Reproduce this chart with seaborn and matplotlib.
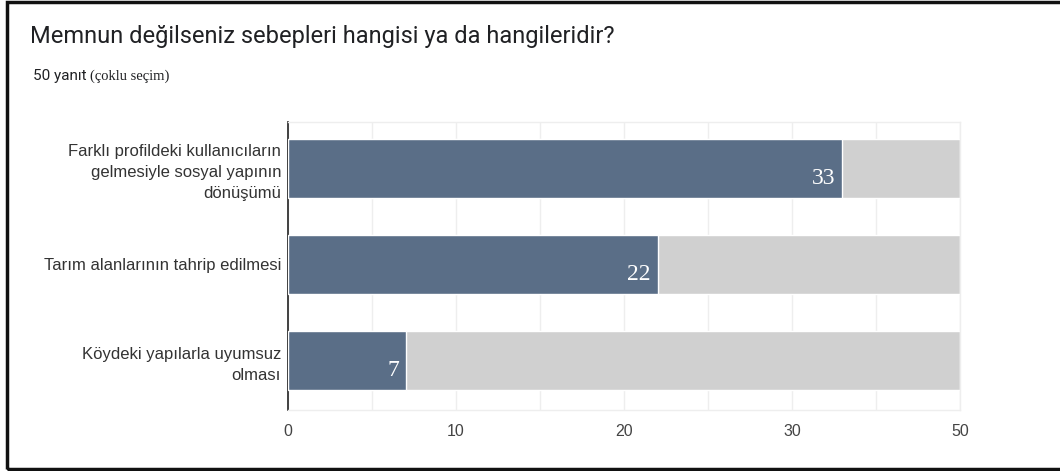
import numpy as np
import pandas as pd
import seaborn as sns
import matplotlib
matplotlib.use('Agg')
import matplotlib.pyplot as plt
from matplotlib.patches import Rectangle

# survey data
categories = [
    'Farklı profildeki kullanıcıların\ngelmesiyle sosyal yapının\ndönüşümü',
    'Tarım alanlarının tahrip edilmesi',
    'Köydeki yapılarla uyumsuz\nolması',
]
counts = [33, 22, 7]
# grey track behind each bar runs to the end of the axis
track = [40, 40, 40]
tick_values = [0, 10, 20, 30, 40]
tick_labels = ['0', '10', '20', '30', '50']

title = 'Memnun değilseniz sebepleri hangisi ya da hangileridir?'

sns.set_theme(style='white')
plt.rcParams['font.family'] = ['Liberation Sans', 'DejaVu Sans']

df = pd.DataFrame({'reason': categories, 'count': counts, 'track': track})

fig = plt.figure(figsize=(10.6, 4.71), dpi=100)
ax = fig.add_axes([288 / 1060, 1 - 410 / 471, 672 / 1060, 288 / 471])

sns.barplot(data=df, x='track', y='reason', orient='h', color='#d0d0d0',
            saturation=1, width=0.615, ax=ax, zorder=2)
sns.barplot(data=df, x='count', y='reason', orient='h', color='#5a6e87',
            saturation=1, width=0.615, ax=ax, zorder=3)

for i, v in enumerate(counts):
    ax.text(v - 0.4, i + 0.1, str(v), ha='right', va='center', color='white',
            fontsize=17, family='Liberation Serif', zorder=4)

ax.set_xlim(0, 40)
ax.set_ylim(2.516, -0.484)
ax.set_xticks(tick_values)
ax.set_xticklabels(tick_labels)
ax.set_xticks(np.arange(5, 40, 10), minor=True)
ax.grid(axis='x', which='both', color='#eeeeee', linewidth=1, zorder=0)
ax.set_axisbelow(True)
ax.set_xlabel('')
ax.set_ylabel('')
ax.tick_params(axis='x', length=0, pad=10, labelsize=11.5, labelcolor='#444444')
ax.tick_params(axis='y', length=0, pad=5, labelsize=12, labelcolor='#333333')
for lbl in ax.get_yticklabels():
    lbl.set_multialignment('right')
    lbl.set_linespacing(1.5)

for side in ['top', 'bottom', 'right']:
    ax.spines[side].set_color('#eeeeee')
    ax.spines[side].set_linewidth(1)
ax.spines['left'].set_color('#333333')
ax.spines['left'].set_linewidth(1.3)

fig.text(30 / 1060, 1 - 37 / 471, title, fontsize=17, family='Roboto',
         color='#202124', va='center')
fig.text(33 / 1060, 1 - 76 / 471, '50 yanıt', fontsize=11, family='Roboto',
         color='#202124', va='center')
fig.text(90 / 1060, 1 - 76 / 471, '(çoklu seçim)', fontsize=10.5,
         family='Liberation Serif', color='#202124', va='center')

# screenshot frame
fig.add_artist(Rectangle((6.5 / 1060, 2 / 471), 1.1, 467 / 471,
                         transform=fig.transFigure, fill=False,
                         edgecolor='#111111', linewidth=2.5))

fig.savefig('out.png', dpi=100, facecolor='white')
